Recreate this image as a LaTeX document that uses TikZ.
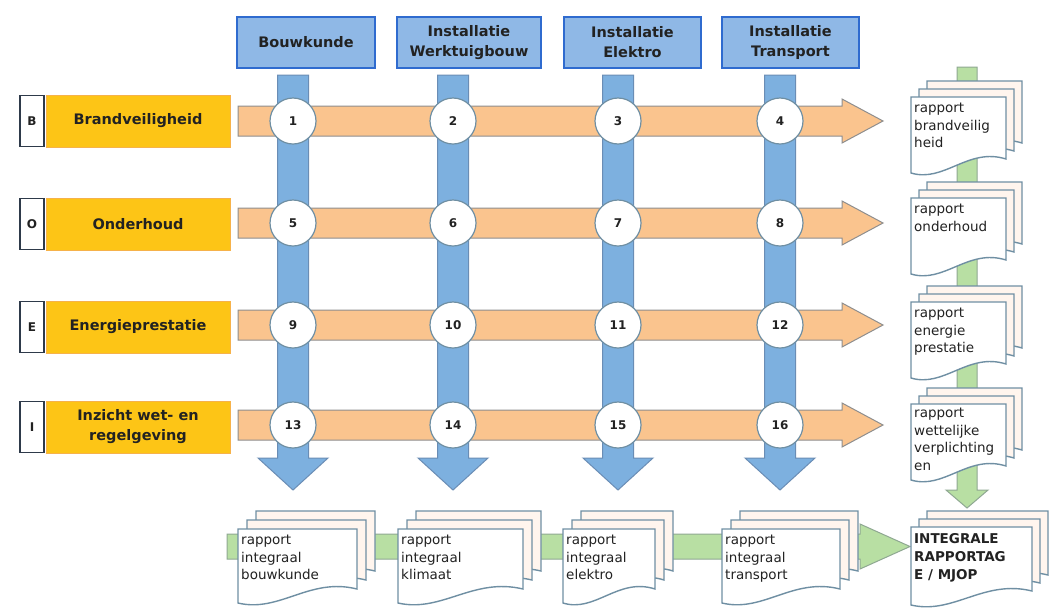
\documentclass[tikz,border=0pt]{standalone}
\usepackage{fontspec}
\setmainfont{DejaVu Sans}
\definecolor{hdrfill}{HTML}{8FB8E6}
\definecolor{hdrline}{HTML}{2F6BCF}
\definecolor{bluefill}{HTML}{7DB0DF}
\definecolor{blueline}{HTML}{6A8DB5}
\definecolor{orangefill}{HTML}{FAC48E}
\definecolor{orangeline}{HTML}{8E8E8E}
\definecolor{yellowfill}{HTML}{FDC516}
\definecolor{yellowline}{HTML}{F6B24A}
\definecolor{greenfill}{HTML}{B8DFA3}
\definecolor{greenline}{HTML}{8FA892}
\definecolor{docline}{HTML}{6F8FA3}
\definecolor{docback}{HTML}{FFF5EE}
\definecolor{keyline}{HTML}{2E3A4A}
\definecolor{textgray}{HTML}{222222}
% one page of a report stack: [fill] left, top, width, height (y runs down)
\newcommand{\docpage}[5][docback]{%
\filldraw[docpage,fill=#1] (#2,#3) -- ({#2+#4},#3) -- ({#2+#4},{#3+#5-16})
  .. controls ({#2+0.6*#4},{#3+#5-28}) and ({#2+0.35*#4},{#3+#5+8}) .. (#2,{#3+#5-2}) -- cycle;}
% three pages, back to front: left, top, width, height, offset
\newcommand{\docstack}[5]{%
\docpage{#1+2*#5}{#2-2*#5}{#3}{#4}
\docpage{#1+#5}{#2-#5}{#3}{#4}
\docpage[white]{#1}{#2}{#3}{#4}}
\begin{document}
\begin{tikzpicture}[scale=1.000000,x=1pt,y=-1pt,
  docpage/.style={draw=docline,line width=1.4pt},
  header/.style={draw=hdrline,fill=hdrfill,line width=2pt,align=center,text=textgray,
    font=\fontsize{14.5}{20}\selectfont\bfseries,minimum height=51},
  keybox/.style={draw=keyline,fill=white,line width=1.8pt,minimum width=24,minimum height=51,
    font=\fontsize{12}{13}\selectfont\bfseries,inner sep=0pt,text=textgray},
  topic/.style={draw=yellowline,fill=yellowfill,line width=1pt,minimum width=184,minimum height=52,
    align=center,text=textgray,font=\fontsize{14.5}{20}\selectfont\bfseries},
  numcircle/.style={circle,draw=docline,fill=white,line width=1.2pt,minimum size=46,
    font=\fontsize{12}{13}\selectfont\bfseries,text=textgray},
  bluearrow/.style={fill=bluefill,draw=blueline,line width=1pt},
  orangearrow/.style={fill=orangefill,draw=orangeline,line width=1pt},
  greenarrow/.style={fill=greenfill,draw=greenline,line width=1pt},
  doctext/.style={anchor=north west,align=left,inner sep=0pt,text=textgray,
    font=\fontsize{13.5}{17.5}\selectfont}]
\useasboundingbox[fill=white] (0,0) rectangle (1057,611);
% Drawing columns (blue arrows down)
\filldraw[bluearrow] (277.5,75) -- (308.5,75) -- (308.5,458) -- (328,458) -- (293,490) -- (258,458) -- (277.5,458) -- cycle;
\filldraw[bluearrow] (437.5,75) -- (468.5,75) -- (468.5,458) -- (488,458) -- (453,490) -- (418,458) -- (437.5,458) -- cycle;
\filldraw[bluearrow] (602.5,75) -- (633.5,75) -- (633.5,458) -- (653,458) -- (618,490) -- (583,458) -- (602.5,458) -- cycle;
\filldraw[bluearrow] (764.5,75) -- (795.5,75) -- (795.5,458) -- (815,458) -- (780,490) -- (745,458) -- (764.5,458) -- cycle;
% Drawing rows (orange arrows right)
\filldraw[orangearrow] (238,106) -- (842,106) -- (842,99) -- (883,121) -- (842,143) -- (842,136) -- (238,136) -- cycle;
\filldraw[orangearrow] (238,208) -- (842,208) -- (842,201) -- (883,223) -- (842,245) -- (842,238) -- (238,238) -- cycle;
\filldraw[orangearrow] (238,310) -- (842,310) -- (842,303) -- (883,325) -- (842,347) -- (842,340) -- (238,340) -- cycle;
\filldraw[orangearrow] (238,410) -- (842,410) -- (842,403) -- (883,425) -- (842,447) -- (842,440) -- (238,440) -- cycle;
% Crossings
\node[numcircle] (n1) at (293,121) {1};
\node[numcircle] (n2) at (453,121) {2};
\node[numcircle] (n3) at (618,121) {3};
\node[numcircle] (n4) at (780,121) {4};
\node[numcircle] (n5) at (293,223) {5};
\node[numcircle] (n6) at (453,223) {6};
\node[numcircle] (n7) at (618,223) {7};
\node[numcircle] (n8) at (780,223) {8};
\node[numcircle] (n9) at (293,325) {9};
\node[numcircle] (n10) at (453,325) {10};
\node[numcircle] (n11) at (618,325) {11};
\node[numcircle] (n12) at (780,325) {12};
\node[numcircle] (n13) at (293,425) {13};
\node[numcircle] (n14) at (453,425) {14};
\node[numcircle] (n15) at (618,425) {15};
\node[numcircle] (n16) at (780,425) {16};
% Column headers
\node[header,minimum width=138] (hBouw) at (306,42.5) {Bouwkunde};
\node[header,minimum width=144] (hWerk) at (469,42.5) {Installatie\\Werktuigbouw};
\node[header,minimum width=137] (hElek) at (632.5,42.5) {Installatie\\Elektro};
\node[header,minimum width=137] (hTrans) at (790.5,42.5) {Installatie\\Transport};
% Row labels
\node[keybox] (kB) at (32,121) {B};
\node[topic] (tBrand) at (138,121) {Brandveiligheid};
\node[keybox] (kO) at (32,224) {O};
\node[topic] (tOnder) at (138,224) {Onderhoud};
\node[keybox] (kE) at (32,327) {E};
\node[topic] (tEnergie) at (138,327) {Energieprestatie};
\node[keybox] (kI) at (32,427) {I};
\node[topic] (tWet) at (138,427) {Inzicht wet- en\\regelgeving};
% Green flows behind the reports
\filldraw[greenarrow] (957,67) -- (977,67) -- (977,490) -- (988,490) -- (967,508) -- (946,490) -- (957,490) -- cycle;
\filldraw[greenarrow] (227,534) -- (860,534) -- (860,524) -- (910,546.5) -- (860,569) -- (860,559) -- (227,559) -- cycle;
% Reports per topic
\docstack{911}{97}{95}{78}{8}
\node[doctext] (dBrand) at (914,103) {rapport\\brandveilig\\heid};
\docstack{911}{198}{95}{78}{8}
\node[doctext] (dOnder) at (914,204) {rapport\\onderhoud};
\docstack{911}{302}{95}{78}{8}
\node[doctext] (dEnergie) at (914,308) {rapport\\energie\\prestatie};
\docstack{911}{404}{95}{78}{8}
\node[doctext] (dWet) at (914,408) {rapport\\wettelijke\\verplichting\\en};
% Reports per discipline
\docstack{238}{529}{119}{76}{9}
\node[doctext] (dBouw) at (241,535) {rapport\\integraal\\bouwkunde};
\docstack{398}{529}{125}{76}{9}
\node[doctext] (dKlimaat) at (401,535) {rapport\\integraal\\klimaat};
\docstack{563}{529}{92}{76}{9}
\node[doctext] (dElek) at (566,535) {rapport\\integraal\\elektro};
\docstack{722}{529}{118}{76}{9}
\node[doctext] (dTrans) at (725,535) {rapport\\integraal\\transport};
% Final report
\docstack{911}{527}{121}{80}{8}
\node[doctext,font=\fontsize{13.5}{18}\selectfont\bfseries] (dFinal) at (914,533) {INTEGRALE\\RAPPORTAG\\E / MJOP};
\end{tikzpicture}
\end{document}
